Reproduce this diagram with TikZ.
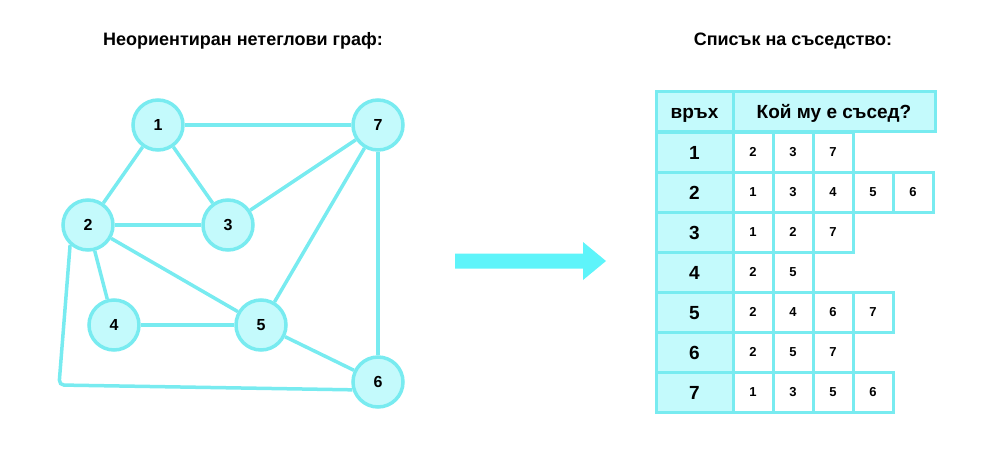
\documentclass[tikz,border=0pt]{standalone}
\usepackage{fontspec}
\setmainfont{Liberation Sans}
\usetikzlibrary{calc}
\definecolor{lc}{HTML}{78EBF0}
\definecolor{fc}{HTML}{C4FAFC}
\definecolor{ac}{HTML}{5EF4FA}
\begin{document}
\begin{tikzpicture}[x=1pt,y=-1pt,
  vtx/.style={circle,draw=lc,fill=fc,line width=3.5pt,minimum size=50pt,inner sep=0pt,font=\bfseries\fontsize{16}{16}\selectfont},
  edge/.style={draw=lc,line width=3.5pt},
  hcell/.style={rectangle,draw=lc,fill=fc,line width=3pt,minimum height=40pt,inner sep=0pt,text height=14pt,text depth=0pt},
  vcell/.style={hcell,minimum width=77pt,font=\bfseries\fontsize{19}{19}\selectfont},
  ncell/.style={rectangle,draw=lc,fill=white,line width=3pt,minimum width=40pt,minimum height=40pt,inner sep=0pt,font=\bfseries\fontsize{13}{13}\selectfont},
  ttl/.style={font=\bfseries\fontsize{18}{18}\selectfont}]
\useasboundingbox (0,0) rectangle (1006,453);
% titles
\node[ttl] (t1) at (243,41) {Неориентиран нетеглови граф:};
\node[ttl] (t2) at (793,41) {Списък на съседство:};
% graph
\node[vtx] (n1) at (158,125) {1};
\node[vtx] (n7) at (378,125) {7};
\node[vtx] (n2) at (88,225) {2};
\node[vtx] (n3) at (228,225) {3};
\node[vtx] (n4) at (114,325) {4};
\node[vtx] (n5) at (261,325) {5};
\node[vtx] (n6) at (378,382) {6};
\coordinate (c26) at (59,385);
\draw[edge] (n1) -- (n7);
\draw[edge] (n1) -- (n2);
\draw[edge] (n1) -- (n3);
\draw[edge] (n2) -- (n3);
\draw[edge] (n3) -- (n7);
\draw[edge] (n2) -- (n4);
\draw[edge] (n2) -- (n5);
\draw[edge] (n4) -- (n5);
\draw[edge] (n5) -- (n7);
\draw[edge] (n5) -- (n6);
\draw[edge] (n7) -- (n6);
\draw[edge,rounded corners=5pt] (n2.228) -- (c26) -- (n6.197);
% arrow
\fill[ac] (455,253.5) -- (583,253.5) -- (583,242) -- (606,261) -- (583,280) -- (583,268.5) -- (455,268.5) -- cycle;
% table header
\node[hcell,minimum width=77pt,font=\bfseries\fontsize{19}{19}\selectfont] (h1) at (694.5,111.5) {връх};
\node[hcell,minimum width=202pt,font=\bfseries\fontsize{19}{19}\selectfont] (h2) at (834,111.5) {Кой му е съсед?};
% rows
\foreach \v/\list [count=\r] in {1/{2,3,7},2/{1,3,4,5,6},3/{1,2,7},4/{2,5},5/{2,4,6,7},6/{2,5,7},7/{1,3,5,6}}{
  \node[vcell] (v\v) at (694.5,{152+40*(\r-1)}) {\v};
  \foreach \n [count=\c] in \list {
    \node[ncell] (c\v-\c) at ({753+40*(\c-1)},{152+40*(\r-1)}) {\n};
  }
}
\end{tikzpicture}
\end{document}
